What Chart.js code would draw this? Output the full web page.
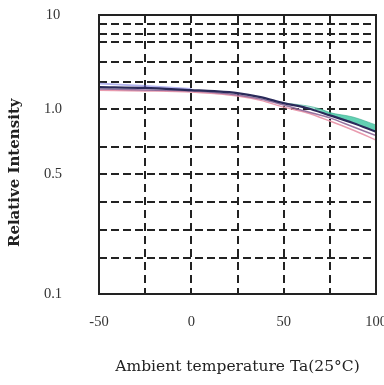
<!DOCTYPE html>
<html>
<head>
<meta charset="utf-8">
<script src="https://cdn.jsdelivr.net/npm/chart.js@4.4.0/dist/chart.umd.min.js"></script>
<style>
html,body{margin:0;padding:0;background:#fff;}
canvas{display:block;}
</style>
</head>
<body>
<canvas id="c" width="384" height="385"></canvas>
<script>
// ---- data ----
const temperatures = [-50, -25, 0, 12.5, 25, 37.5, 50, 62.5, 75, 87.5, 100];
const darkSeries  = [1.81, 1.78, 1.70, 1.66, 1.59, 1.44, 1.22, 1.04, 0.95, 0.89, 0.82];
const mauveSeries = [1.74, 1.70, 1.67, 1.61, 1.52, 1.37, 1.15, 0.98, 0.93, 0.86, 0.79];
const pinkSeries  = [1.69, 1.67, 1.63, 1.57, 1.48, 1.32, 1.07, 0.97, 0.905, 0.834, 0.755];
const tealTemps   = [50, 62.5, 70, 75, 87.5, 100];
const tealSeries  = [1.22, 1.12, 1.0, 0.972, 0.937, 0.874];
const blueTemps   = [-50, -25, 0];
const blueSeries  = [1.94, 1.85, 1.74];

const xTickLabels = {'-50': '-50', '0': '0', '50': '50', '100': '100'};
const yTickValues = [0.1, 0.2, 0.3, 0.4, 0.5, 0.7, 1, 2, 3, 5, 6, 8, 10];
const yTickLabels = {'0.1': '0.1', '0.5': '0.5', '1': '1.0', '10': '10'};
// the printed axis is non-uniform: share of the axis height at each tick value
const yTickFractions = [0, 0.129, 0.229, 0.330, 0.430, 0.527, 0.663, 0.760, 0.832, 0.903, 0.932, 0.968, 1];

function fracFor(v) {
  const t = yTickValues, f = yTickFractions, n = t.length - 1;
  if (v <= t[0]) return f[0] + (v - t[0]) / (t[1] - t[0]) * (f[1] - f[0]);
  for (let i = 1; i <= n; i++) {
    if (v <= t[i]) return f[i - 1] + (v - t[i - 1]) / (t[i] - t[i - 1]) * (f[i] - f[i - 1]);
  }
  return f[n] + (v - t[n]) / (t[n] - t[n - 1]) * (f[n] - f[n - 1]);
}
function valueFor(fr) {
  const t = yTickValues, f = yTickFractions, n = t.length - 1;
  if (fr <= f[0]) return t[0] + (fr - f[0]) / (f[1] - f[0]) * (t[1] - t[0]);
  for (let i = 1; i <= n; i++) {
    if (fr <= f[i]) return t[i - 1] + (fr - f[i - 1]) / (f[i] - f[i - 1]) * (t[i] - t[i - 1]);
  }
  return t[n] + (fr - f[n]) / (f[n] - f[n - 1]) * (t[n] - t[n - 1]);
}

class StopScale extends Chart.LinearScale {
  determineDataLimits() {
    this.min = yTickValues[0];
    this.max = yTickValues[yTickValues.length - 1];
  }
  buildTicks() { return yTickValues.map(v => ({value: v})); }
  getPixelForValue(v) { return this.getPixelForDecimal(fracFor(v)); }
  getValueForPixel(p) { return valueFor(this.getDecimalForPixel(p)); }
}
StopScale.id = 'stops';
StopScale.defaults = Chart.LinearScale.defaults;
Chart.register(StopScale);

const pts = (xs, ys) => xs.map((x, i) => ({x: x, y: ys[i]}));

const framePlugin = {
  id: 'frame',
  afterDatasetsDraw(chart) {
    const {ctx, chartArea: a} = chart;
    ctx.save();
    ctx.setLineDash([]);
    ctx.strokeStyle = '#222';
    ctx.lineWidth = 2;
    ctx.strokeRect(a.left, a.top, a.right - a.left, a.bottom - a.top);
    ctx.restore();
  }
};

function tealFill(context) {
  const chart = context.chart;
  const a = chart.chartArea;
  if (!a) return 'rgba(70,200,165,0.75)';
  const xs = chart.scales.x;
  const g = chart.ctx.createLinearGradient(xs.getPixelForValue(50), 0, xs.getPixelForValue(72), 0);
  g.addColorStop(0, 'rgba(220,246,250,0.5)');
  g.addColorStop(0.6, 'rgba(175,236,228,0.75)');
  g.addColorStop(1, 'rgba(70,200,165,0.85)');
  return g;
}

new Chart(document.getElementById('c'), {
  type: 'line',
  data: {
    datasets: [
      {label: 'dark', data: pts(temperatures, darkSeries), borderColor: '#2a2a5a', borderWidth: 2.2, fill: false},
      {label: 'mauve', data: pts(temperatures, mauveSeries), borderColor: 'rgba(140,100,150,0.9)', borderWidth: 1.5, fill: false},
      {label: 'pink', data: pts(temperatures, pinkSeries), borderColor: 'rgba(232,150,170,0.95)', borderWidth: 1.5, fill: false},
      {label: 'blue', data: pts(blueTemps, blueSeries), borderColor: 'rgba(120,120,225,0.55)', borderWidth: 2, fill: false},
      {label: 'teal', data: pts(tealTemps, tealSeries), borderColor: 'rgba(60,170,140,0.6)', borderWidth: 1, fill: 0, backgroundColor: tealFill}
    ]
  },
  options: {
    responsive: false,
    animation: false,
    devicePixelRatio: 1,
    layout: {padding: {top: 15, right: 8, left: 0, bottom: 0}},
    plugins: {legend: {display: false}, tooltip: {enabled: false}},
    elements: {point: {radius: 0}, line: {cubicInterpolationMode: 'monotone'}},
    scales: {
      x: {
        type: 'linear', min: -50, max: 100,
        ticks: {
          stepSize: 25, autoSkip: false, maxRotation: 0, padding: 19, color: '#333',
          font: {family: 'Liberation Serif', size: 14.5},
          callback: v => xTickLabels[String(v)] ?? ''
        },
        grid: {color: '#222', lineWidth: 2, drawTicks: false},
        border: {display: false, dash: [8, 5]},
        title: {
          display: true, text: 'Ambient temperature Ta(25°C)', color: '#222',
          font: {family: 'DejaVu Serif', size: 15.5}, padding: {top: 0, bottom: 9}
        },
        afterFit: s => { s.height = 91; s.paddingLeft = 0; s.paddingRight = 0; }
      },
      y: {
        type: 'stops', position: 'left',
        ticks: {
          autoSkip: false, crossAlign: 'center', padding: 37, color: '#333',
          font: {family: 'Liberation Serif', size: 14.5},
          callback: v => yTickLabels[String(v)] ?? ''
        },
        grid: {color: '#222', lineWidth: 2, drawTicks: false},
        border: {display: false, dash: [8, 4]},
        title: {
          display: true, text: 'Relative Intensity       ', color: '#222',
          font: {family: 'DejaVu Serif', size: 15, weight: 'bold'}, padding: {top: 6, bottom: 0}
        },
        afterFit: s => { s.width = 99; s.paddingTop = 0; s.paddingBottom = 0; }
      }
    }
  },
  plugins: [framePlugin]
});
</script>
</body>
</html>
